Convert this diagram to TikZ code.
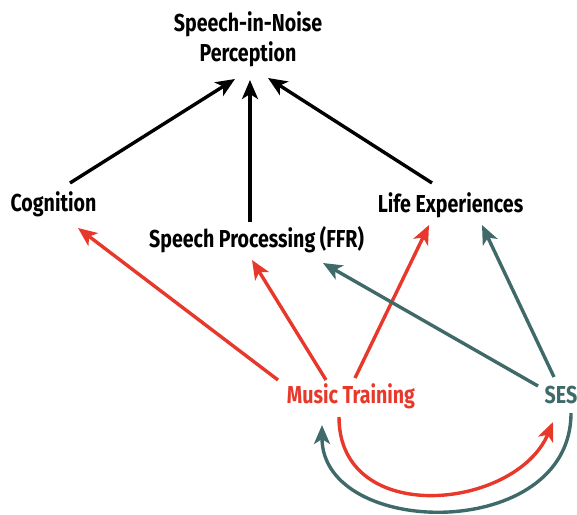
\documentclass[tikz,border=0pt]{standalone}
\usepackage{fontspec}
\setmainfont{Fira Sans}[FakeStretch=0.80]
\usetikzlibrary{arrows.meta}

\definecolor{mtred}{RGB}{232,56,43}
\definecolor{sesteal}{RGB}{64,106,106}

\tikzset{
  lbl/.style={font=\fontsize{24.5}{30}\selectfont\bfseries, inner sep=0pt, align=center},
  arr/.style={line width=3.4pt, -{Stealth[length=19pt, width=16pt, inset=5pt]}},
  blk/.style={arr, black},
  red/.style={arr, mtred},
  teal/.style={arr, sesteal},
}

\begin{document}
\begin{tikzpicture}[x=1pt, y=-1pt]
\useasboundingbox (0,0) rectangle (577,514);

	%factors
 \node[lbl] (perc) at (248,39) {Speech-in-Noise\\Perception};
 \node[lbl] (cog) at (53.5,204) {Cognition};
 \node[lbl] (sp) at (256.5,240) {Speech Processing (FFR)};
 \node[lbl] (le) at (450.5,205) {Life Experiences};
 \node[lbl, text=mtred] (mt) at (351,396) {Music Training};
 \node[lbl, text=sesteal] (ses) at (561,395) {SES};

	%into perception
 \draw[blk] ([shift={(16.5,-21)}]cog.center) -- ([shift={(-13,40)}]perc.center);
 \draw[blk] ([shift={(-6.5,-18)}]sp.center) -- ([shift={(2,41)}]perc.center);
 \draw[blk] ([shift={(-18.5,-22)}]le.center) -- ([shift={(20,39)}]perc.center);

	%music training
 \draw[red] ([shift={(-73,-16)}]mt.center) -- ([shift={(24.5,24)}]cog.center);
 \draw[red] ([shift={(-25,-16)}]mt.center) -- ([shift={(-4.5,20)}]sp.center);
 \draw[red] ([shift={(4,-18)}]mt.center) -- ([shift={(-21.5,20)}]le.center);

	%ses
 \draw[teal] ([shift={(-23,-9)}]ses.center) -- ([shift={(66.5,23)}]sp.center);
 \draw[teal] ([shift={(-7,-18)}]ses.center) -- ([shift={(31.5,20)}]le.center);

	%loop between the two
 \draw[red] ([shift={(-12,21)}]mt.center) .. controls ([shift={(-12,132)}]mt.center) and ([shift={(-45,115)}]ses.center) .. ([shift={(-8,27)}]ses.center);
 \draw[teal] ([shift={(10,18)}]ses.center) .. controls ([shift={(10,148)}]ses.center) and ([shift={(-29,143)}]mt.center) .. ([shift={(-29,29)}]mt.center);

\end{tikzpicture}
\end{document}
